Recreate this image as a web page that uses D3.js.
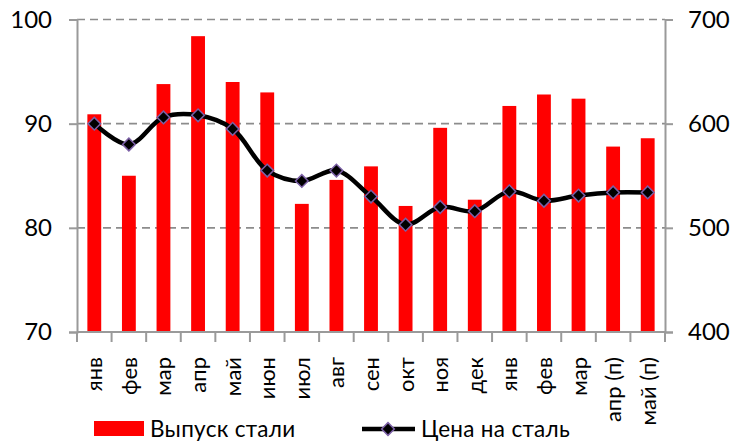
<!DOCTYPE html>
<html><head><meta charset="utf-8">
<script src="https://cdn.jsdelivr.net/npm/d3@7"></script>
<style>body{margin:0;background:#fff}svg{display:block}text{font-family:Lato,"Noto Sans",sans-serif;fill:#000}</style>
</head><body><svg id="c" width="731" height="441"></svg>
<script>
const categories = ["янв","фев","мар","апр","май","июн","июл","авг","сен","окт","ноя","дек","янв","фев","мар","апр (п)","май (п)"];
const steelOutput = [90.9,85.0,93.8,98.4,94.0,93.0,82.3,84.6,85.9,82.1,89.6,82.7,91.7,92.8,92.4,87.8,88.6];
const steelPrice = [600,580,606,608,595,555,545,555,530,503,520,516,535,526,531,534,534];
const leftTicks = [70,80,90,100];
const rightTicks = [400,500,600,700];
const seriesNames = ["Выпуск стали","Цена на сталь"];

const svg = d3.select("#c");
const L = 77, R = 665, T = 19.5, B = 332;
const idx = categories.map((d,i)=>i);
const xBand = d3.scaleBand().domain(idx).range([L,R]).padding(0);
const xBar = d3.scaleBand().domain(idx).range([L,R]).paddingInner(0.6).paddingOuter(0.3);
const yL = d3.scaleLinear().domain([70,100]).range([B,T]);
const yR = d3.scaleLinear().domain([400,700]).range([B,T]);
const axisColor = "#9a9a9a";

// gridlines
svg.append("g").selectAll("line").data(leftTicks.filter(v=>v>70)).join("line")
  .attr("x1",L).attr("x2",R).attr("y1",d=>yL(d)).attr("y2",d=>yL(d))
  .attr("stroke","#8c8c8c").attr("stroke-width",1.6).attr("stroke-dasharray","8,5");

// bars
svg.append("g").selectAll("rect").data(steelOutput).join("rect")
  .attr("x",(d,i)=>xBar(i)).attr("width",xBar.bandwidth())
  .attr("y",d=>yL(d)).attr("height",d=>B-yL(d)).attr("fill","#ff0000");

// left axis
const gL = svg.append("g").attr("transform",`translate(${L},0)`)
  .call(d3.axisLeft(yL).tickValues(leftTicks).tickSize(8).tickPadding(17).tickFormat(d3.format("d")));
// right axis
const gR = svg.append("g").attr("transform",`translate(${R},0)`)
  .call(d3.axisRight(yR).tickValues(rightTicks).tickSize(8).tickPadding(15).tickFormat(d3.format("d")));
[gL,gR].forEach(g=>{
  g.select(".domain").attr("stroke",axisColor).attr("stroke-width",2);
  g.selectAll(".tick line").attr("stroke",axisColor).attr("stroke-width",2);
  g.selectAll(".tick text").attr("font-size",24).attr("font-family","Lato,'Noto Sans',sans-serif").attr("fill","#000");
});

// bottom axis
svg.append("line").attr("x1",L).attr("x2",R).attr("y1",B).attr("y2",B)
  .attr("stroke",axisColor).attr("stroke-width",2);
const edges = idx.map(i=>xBand(i)).concat([R]);
svg.append("g").selectAll("line").data(edges).join("line")
  .attr("x1",d=>d).attr("x2",d=>d).attr("y1",B).attr("y2",B+10)
  .attr("stroke",axisColor).attr("stroke-width",2);
svg.append("g").selectAll("text").data(categories).join("text")
  .attr("transform",(d,i)=>`translate(${xBand(i)+xBand.bandwidth()/2+8},357) rotate(-90)`)
  .attr("text-anchor","end").attr("font-size",22).text(d=>d);

// line
const line = d3.line().x((d,i)=>xBand(i)+xBand.bandwidth()/2).y(d=>yR(d)).curve(d3.curveCatmullRom.alpha(0.5));
svg.append("path").datum(steelPrice).attr("d",line).attr("fill","none")
  .attr("stroke","#000").attr("stroke-width",4.5).attr("stroke-linejoin","round");
const diamond = d3.symbol().type(d3.symbolSquare).size(80);
svg.append("g").selectAll("path").data(steelPrice).join("path")
  .attr("d",diamond)
  .attr("transform",(d,i)=>`translate(${xBand(i)+xBand.bandwidth()/2},${yR(d)}) rotate(45)`)
  .attr("fill","#000").attr("stroke","#7b5fa5").attr("stroke-width",1.5);

// legend
const lg = svg.append("g");
lg.append("rect").attr("x",94).attr("y",421).attr("width",50).attr("height",15).attr("fill","#ff0000");
lg.append("text").attr("x",150).attr("y",437).attr("font-size",22.5).attr("letter-spacing",0.3).text(seriesNames[0]);
lg.append("line").attr("x1",362).attr("x2",415).attr("y1",429).attr("y2",429).attr("stroke","#000").attr("stroke-width",4.5);
lg.append("path").attr("d",diamond).attr("transform","translate(388,429) rotate(45)")
  .attr("fill","#000").attr("stroke","#7b5fa5").attr("stroke-width",1.5);
lg.append("text").attr("x",421).attr("y",437).attr("font-size",22.5).attr("letter-spacing",0.3).text(seriesNames[1]);
</script></body></html>
